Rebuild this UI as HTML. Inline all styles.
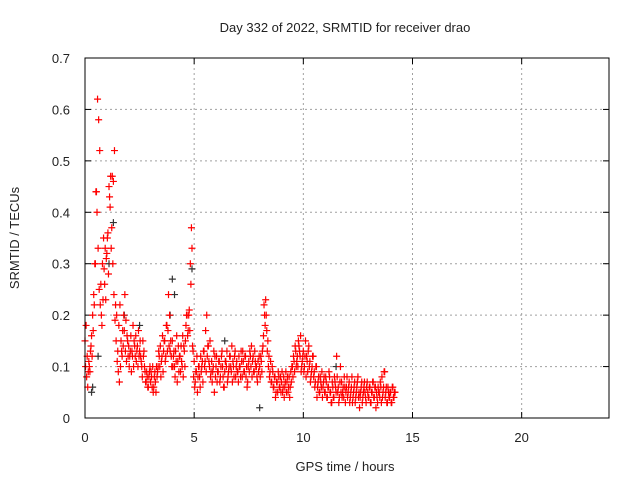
<!DOCTYPE html>
<html><head><meta charset="utf-8"><style>
body{margin:0;background:#fff}
svg text{font-family:"Liberation Sans",sans-serif;font-size:13px;fill:#222}
</style></head><body>
<svg id="chart" width="640" height="480" viewBox="0 0 640 480">
<text x="345" y="32" text-anchor="middle">Day 332 of 2022, SRMTID for receiver drao</text>
<text transform="translate(19,238) rotate(-90)" text-anchor="middle">SRMTID / TECUs</text>
<text x="345" y="471" text-anchor="middle">GPS time / hours</text>
<g id="grid"></g>
<g id="ticks"></g>
<g id="black"></g>
<g id="red"></g>
<rect x="85" y="58" width="524" height="360" fill="none" stroke="#000" stroke-width="1"/>
</svg>
<script>
const xTicks=[0,5,10,15,20];
const yTicks=[0,0.1,0.2,0.3,0.4,0.5,0.6,0.7];
const yTickLabels=["0","0.1","0.2","0.3","0.4","0.5","0.6","0.7"];
const redA=[.15,.18,.12,.09,.1,.13,.16,.2,.24,.3,.44,.4,.33,.25,.22,.2,.3,.35,.26,.23,
.32,.36,.45,.41,.33,.47,.46,.52,.22,.2,.13,.18,.22,.15,.12,.14,.17,.13,.11,.15,
.14,.12,.16,.13,.18,.15,.12,.11,.14,.17,.13,.12,.1,.15,.13,.09,.07,.08,.06,.09,
.07,.08,.1,.06,.09,.05,.08,.1,.12,.14,.11,.16,.13,.15,.12,.18,.17,.14,.13,.12,
.15,.12,.1,.13,.16,.11,.09,.12,.14,.1,.08,.13,.15,.2,.16,.2,.17,.26,.33,.13,
.11,.07,.09,.05,.1,.08,.12,.1,.07,.13,.11,.09,.12,.14,.1,.08,.11,.09,.13,.12,
.1,.07,.09,.11,.08,.12,.1,.06,.09,.11,.13,.08,.1,.12,.09,.07,.1,.12,.08,.11,
.09,.12,.1,.13,.08,.11,.09,.12,.1,.07,.11,.13,.1,.08,.12,.09,.11,.1,.07,.09,
.1,.12,.09,.14,.22,.18,.2,.13,.1,.08,.11,.07,.09,.06,.08,.05,.07,.09,.06,.08,
.07,.05,.08,.06,.09,.07,.05,.08,.06,.07,.1,.12,.09,.13,.11,.1,.14,.12,.09,.11,
.13,.1,.15,.12,.09,.14,.11,.08,.1,.12,.09,.07,.1,.06,.08,.05,.07,.09,.06,.08,
.05,.07,.04,.06,.08,.05,.03,.06,.04,.07,.05,.08,.06,.04,.1,.07,.05,.04,.06,.05,
.08,.05,.07,.04,.06,.03,.05,.07,.04,.06,.08,.05,.04,.06,.03,.05,.07,.04,.06,.05,
.04,.06,.03,.05,.07,.04,.06,.05,.03,.05,.04,.06,.08,.05,.09,.04,.06,.03,.05,.04,
.05,.03,.06,.04,.05];
const redB=[.1,.08,.06,.11,.09,.14,.12,.17,.22,.3,.44,.62,.58,.52,.26,.18,.23,.29,.33,.31,
.35,.28,.43,.47,.37,.3,.24,.19,.15,.11,.09,.07,.1,.13,.17,.2,.24,.19,.16,.12,
.1,.13,.09,.12,.1,.14,.16,.13,.1,.12,.15,.11,.08,.12,.1,.07,.09,.06,.08,.1,
.09,.06,.05,.08,.07,.1,.09,.13,.1,.08,.12,.09,.15,.11,.18,.13,.24,.2,.15,.1,
.1,.13,.08,.11,.07,.14,.12,.09,.11,.16,.14,.1,.18,.2,.17,.21,.3,.37,.14,.08,
.06,.09,.12,.08,.1,.06,.09,.11,.13,.1,.17,.2,.14,.11,.15,.09,.07,.1,.05,.08,
.12,.09,.11,.07,.1,.13,.08,.06,.11,.1,.07,.09,.12,.1,.14,.11,.08,.13,.1,.09,
.07,.1,.08,.11,.13,.09,.12,.08,.06,.1,.09,.12,.14,.11,.09,.13,.1,.08,.11,.12,
.08,.11,.13,.16,.2,.23,.17,.15,.12,.09,.07,.1,.06,.08,.04,.07,.05,.08,.06,.05,
.09,.06,.04,.07,.05,.08,.06,.04,.09,.1,.08,.11,.14,.1,.12,.15,.13,.16,.1,.12,
.09,.12,.08,.11,.13,.1,.07,.09,.12,.08,.06,.1,.04,.07,.05,.08,.06,.04,.07,.05,
.08,.04,.06,.09,.05,.03,.07,.04,.08,.06,.12,.05,.03,.07,.05,.04,.06,.08,.03,.06,
.04,.06,.03,.05,.08,.04,.06,.03,.05,.07,.04,.02,.05,.07,.04,.06,.05,.03,.07,.04,
.06,.03,.05,.07,.04,.06,.02,.04,.06,.05,.07,.03,.04,.06,.09,.05,.03,.06,.04,.05,
.03,.06,.04,.05];
const blackT=[0.3,0.35,1.1,1.3,1.8,2.5,4.0,4.1,4.9,6.4,8.0,11.5,0.6,3.9];
const blackV=[0.05,0.06,0.3,0.38,0.2,0.18,0.27,0.24,0.29,0.15,0.02,0.1,0.12,0.2];
const stepHours=0.05;
const NS="http://www.w3.org/2000/svg";
const X=t=>85+t*(524/24), Y=v=>418-v*(360/0.7);
function mk(tag,attrs,parent){const e=document.createElementNS(NS,tag);for(const k in attrs)e.setAttribute(k,attrs[k]);parent.appendChild(e);return e;}
const grid=document.getElementById('grid'),ticks=document.getElementById('ticks');
xTicks.forEach(t=>{
  if(t>0){const g=mk('line',{x1:X(t),x2:X(t),y1:58,y2:418,stroke:'#a0a0a0','stroke-dasharray':'2,3'},grid);
  
  }
  const l=mk('line',{x1:X(t),x2:X(t),y1:418,y2:412,stroke:'#000'},ticks);
  
  
  const l2=mk('line',{x1:X(t),x2:X(t),y1:58,y2:64,stroke:'#000'},ticks);
  
  
  const tx=mk('text',{x:X(t),y:442,'text-anchor':'middle'},ticks);tx.textContent=t;
  
  
});
yTicks.forEach((v,i)=>{
  if(v>0&&v<0.7){const g=mk('line',{x1:85,x2:609,y1:Y(v),y2:Y(v),stroke:'#a0a0a0','stroke-dasharray':'2,3'},grid);
  
  }
  const l=mk('line',{x1:85,x2:91,y1:Y(v),y2:Y(v),stroke:'#000'},ticks);
  
  
  const l2=mk('line',{x1:603,x2:609,y1:Y(v),y2:Y(v),stroke:'#000'},ticks);
  
  
  const tx=mk('text',{x:70,y:Y(v)+5,'text-anchor':'end'},ticks);tx.textContent=yTickLabels[i];
  
  
});
function cross(parent,t,v,color){
  const x=X(t),y=Y(v);
  const p=mk('path',{d:`M${x-3.5} ${y}H${x+3.5}M${x} ${y-3.5}V${y+3.5}`,stroke:color,'stroke-width':1.2,fill:'none'},parent);
  
  
}
const bl=document.getElementById('black'),rd=document.getElementById('red');
blackT.forEach((t,i)=>cross(bl,t,blackV[i],'#333'));
redA.forEach((v,i)=>cross(rd,i*stepHours,v,'#f00'));
redB.forEach((v,i)=>cross(rd,i*stepHours+stepHours/2,v,'#f00'));
</script>
</body></html>
